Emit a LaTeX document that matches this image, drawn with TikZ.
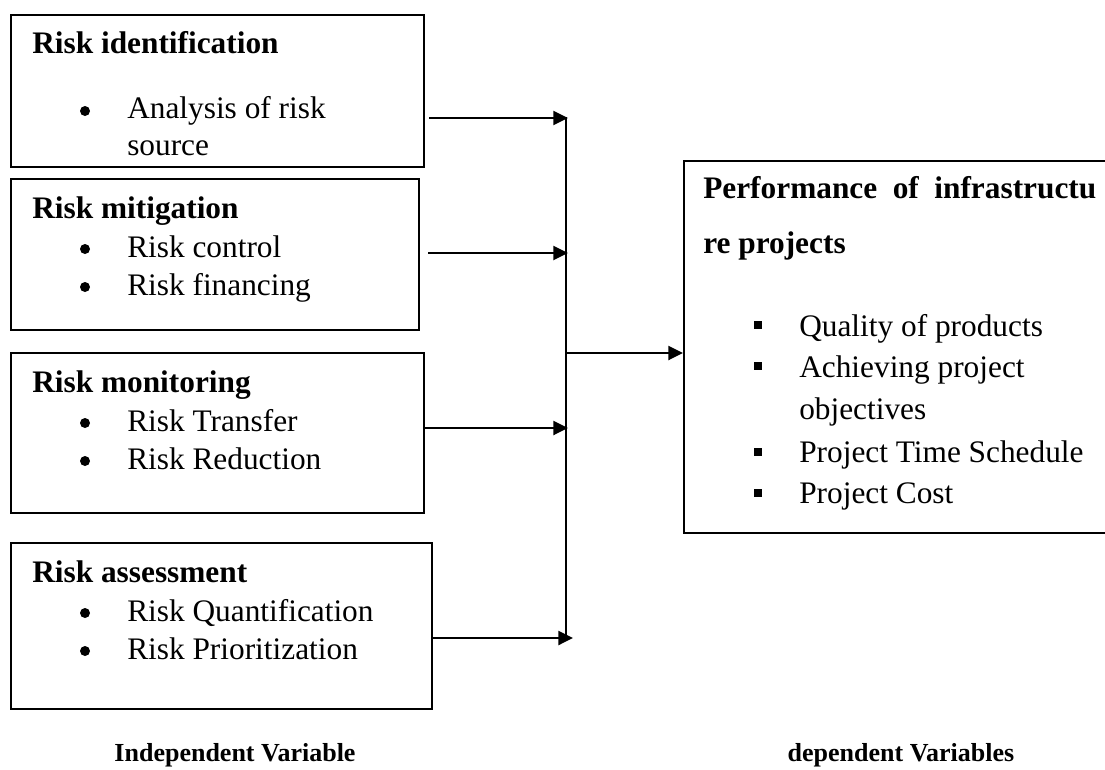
\documentclass[tikz,border=0pt]{standalone}
\usepackage{fontspec}
\setmainfont{Liberation Serif}
\usetikzlibrary{arrows.meta}
\begin{document}
\begin{tikzpicture}[x=0.75pt,y=-0.75pt,
  box/.style={draw=black, line width=1.5pt, inner sep=0pt, anchor=north west},
  head/.style={anchor=base west, inner sep=0pt, font=\fontsize{23.5}{28}\selectfont\bfseries},
  item/.style={anchor=base west, inner sep=0pt, font=\fontsize{23.5}{28}\selectfont},
  dot/.style={circle, fill=black, inner sep=0pt, minimum size=7.5pt},
  sq/.style={rectangle, fill=black, inner sep=0pt, minimum size=6.5pt},
  captext/.style={anchor=base, inner sep=0pt, font=\fontsize{19.5}{22}\selectfont\bfseries},
  conn/.style={line width=1.7pt, -{Triangle[length=11pt,width=10.5pt]}},
  vline/.style={line width=1.3pt}]
\useasboundingbox (0,0) rectangle (1105,769);
% boxes
\node[box, minimum width=413*0.75pt, minimum height=152*0.75pt] (b1) at (10,14) {};
\node[box, minimum width=408*0.75pt, minimum height=151*0.75pt] (b2) at (10,178) {};
\node[box, minimum width=413*0.75pt, minimum height=160*0.75pt] (b3) at (10,352) {};
\node[box, minimum width=421*0.75pt, minimum height=166*0.75pt] (b4) at (10,542) {};
\node[box, minimum width=440*0.75pt, minimum height=372*0.75pt] (rb) at (683,160) {};
% box 1
\node[head] (t1) at (32,53) {Risk identification};
\node[dot] (u11) at (85,111) {};
\node[item] (i11) at (127,118) {Analysis of risk};
\node[item] (i12) at (127,155) {source};
% box 2
\node[head] (t2) at (32,218) {Risk mitigation};
\node[dot] (u21) at (85,249) {};
\node[item] (i21) at (127,257) {Risk control};
\node[dot] (u22) at (85,287) {};
\node[item] (i22) at (127,295) {Risk financing};
% box 3
\node[head] (t3) at (32,392) {Risk monitoring};
\node[dot] (u31) at (85,423) {};
\node[item] (i31) at (127,431) {Risk Transfer};
\node[dot] (u32) at (85,461) {};
\node[item] (i32) at (127,469) {Risk Reduction};
% box 4
\node[head] (t4) at (32,582) {Risk assessment};
\node[dot] (u41) at (85,613) {};
\node[item] (i41) at (127,621) {Risk Quantification};
\node[dot] (u42) at (85,651) {};
\node[item] (i42) at (127,659) {Risk Prioritization};
% right box
\node[head] (tr1) at (703,198) {\makebox[294.75pt][s]{Performance of infrastructu}};
\node[head] (tr2) at (703,253) {re projects};
\node[sq] (s1) at (758,325) {};
\node[item] (r1) at (799,336) {Quality of products};
\node[sq] (s2) at (758,366) {};
\node[item] (r2) at (799,377) {Achieving project};
\node[item] (r3) at (799,419) {objectives};
\node[sq] (s3) at (758,452) {};
\node[item] (r4) at (799,462) {Project Time Schedule};
\node[sq] (s4) at (758,493) {};
\node[item] (r5) at (799,503) {Project Cost};
% captions
\node[captext] (c1) at (235,761) {Independent Variable};
\node[captext] (c2) at (901,761) {dependent Variables};
% connectors
\coordinate (vt) at (566,117);
\coordinate (vb) at (566,639);
\coordinate (a1) at (568,118);
\coordinate (a2) at (568,253);
\coordinate (a3) at (568,428);
\coordinate (a4) at (573,638);
\coordinate (m) at (567,353);
\draw[vline] (vt) -- (vb);
\draw[conn] (b1.east |- a1) ++(4,0) -- (a1);
\draw[conn] (b2.east |- a2) ++(8,0) -- (a2);
\draw[conn] (b3.east |- a3) -- (a3);
\draw[conn] (b4.east |- a4) -- (a4);
\draw[conn] (m) -- (rb.west |- m);
\end{tikzpicture}
\end{document}
